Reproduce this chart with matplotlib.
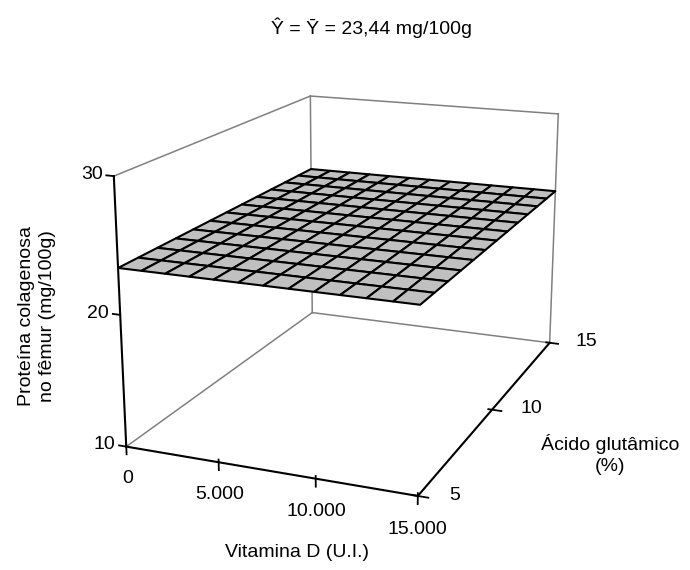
import numpy as np
import matplotlib
matplotlib.use('Agg')
from matplotlib import pyplot as plt

plt.rcParams['font.family'] = ['Liberation Sans', 'DejaVu Sans']
plt.rcParams['font.size'] = 14

# grade da superficie ajustada (Y chapeu = media)
vitamina_d = [0, 1250, 2500, 3750, 5000, 6250, 7500, 8750, 10000, 11250, 12500, 13750, 15000]
acido = [5.0, 5.833, 6.667, 7.5, 8.333, 9.167, 10.0, 10.833, 11.667, 12.5, 13.333, 14.167, 15.0]
media = 23.44

x_ticks = [0, 5000, 10000, 15000]
x_labels = ['0', '5.000', '10.000', '15.000']
y_ticks = [5, 10, 15]
z_ticks = [10, 20, 30]

X, Y = np.meshgrid(vitamina_d, acido)
Z = np.full(X.shape, media)

fig = plt.figure(figsize=(6.9, 5.7), dpi=100)
ax = fig.add_axes([0.006, 0.0145, 1.0, 1.0], projection='3d', computed_zorder=False)
ax.set_proj_type('persp', focal_length=0.5)
ax.view_init(elev=16.5, azim=-68)
ax.set_box_aspect((1, 1.5, 0.895), zoom=0.99)
ax.set_axis_off()

x0, x1 = 0, 15000
y0, y1 = 5, 15
z0, z1 = 10, 30

# arestas do fundo (cinza)
cinza = '#808080'
for p, q in [((x0, y0, z0), (x0, y1, z0)), ((x0, y1, z0), (x1, y1, z0)),
             ((x0, y1, z0), (x0, y1, z1)), ((x1, y1, z0), (x1, y1, z1)),
             ((x0, y0, z1), (x0, y1, z1)), ((x0, y1, z1), (x1, y1, z1))]:
    ax.plot([p[0], q[0]], [p[1], q[1]], [p[2], q[2]], color=cinza, lw=1.1, zorder=1)

ax.plot_surface(X, Y, Z, color='#c0c0c0', edgecolor='black', linewidth=1.5,
                shade=False, zorder=2)

# eixos (preto)
for p, q in [((x0, y0, z0), (x0, y0, z1)), ((x0, y0, z0), (x1, y0, z0)),
             ((x1, y0, z0), (x1, y1, z0))]:
    ax.plot([p[0], q[0]], [p[1], q[1]], [p[2], q[2]], color='black', lw=1.5, zorder=3)

# ticks z
for z in z_ticks:
    ax.plot([x0, x0 - 400], [y0, y0], [z, z], color='black', lw=1.3, zorder=3)
    ax.text(x0 - 600, y0, z, str(z), ha='right', va='center', zorder=4)

# ticks x
for xv, lab in zip(x_ticks, x_labels):
    ax.plot([xv, xv], [y0, y0], [z0 + 0.2, z0 - 0.6], color='black', lw=1.3, zorder=3)
    ax.text(xv, y0, z0 - 2.5, lab, ha='center', va='center', zorder=4)

# ticks y
for yv in y_ticks:
    ax.plot([x1 - 200, x1 + 500], [yv, yv], [z0, z0], color='black', lw=1.3, zorder=3)
    ax.text(x1 + 1500, yv, z0 + 0.4, str(yv), ha='left', va='center', zorder=4)

ax.set_xlim(x0, x1)
ax.set_ylim(y0, y1)
ax.set_zlim(z0, z1)

fig.text(0.538, 0.951, 'Ŷ = Ȳ = 23,44 mg/100g', ha='center', va='center')
fig.text(0.430, 0.030, 'Vitamina D (U.I.)', ha='center', va='center')
fig.text(0.884, 0.202, 'Ácido glutâmico\n(%)', ha='center', va='center', linespacing=1.3)
fig.text(0.054, 0.445, 'Proteína colagenosa\nno fêmur (mg/100g)', ha='center', va='center',
         rotation=90, linespacing=1.3)

fig.savefig('out.png', dpi=100)
